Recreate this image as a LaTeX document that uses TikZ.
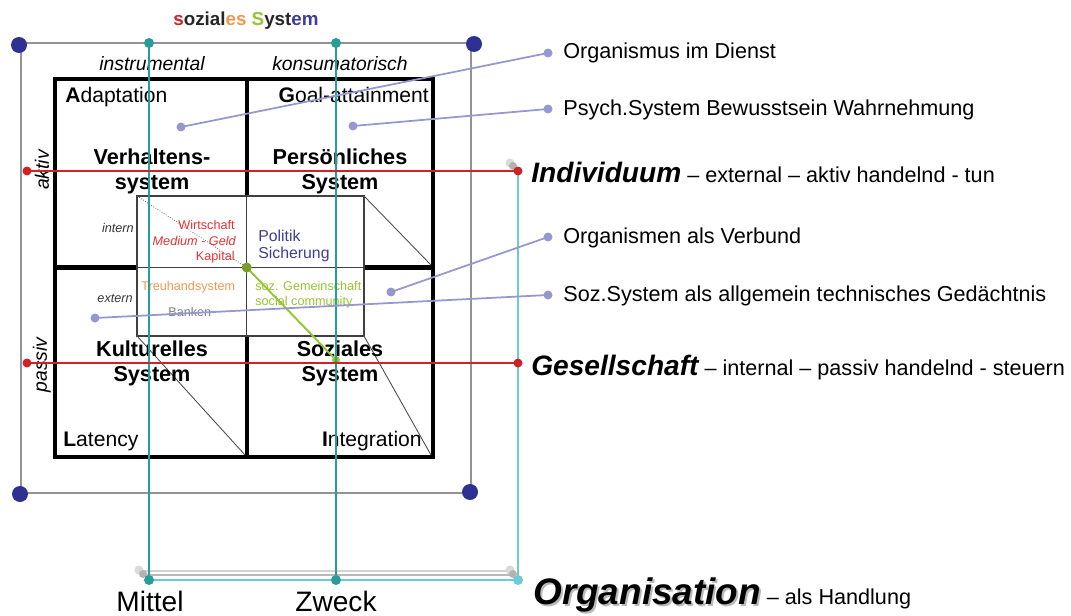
\documentclass[tikz,border=0pt]{standalone}
\usepackage{fontspec}
\setmainfont{Liberation Sans}
\usepackage{tikz}
\usetikzlibrary{positioning}

\definecolor{rot}{RGB}{204,34,40}
\definecolor{textrot}{RGB}{232,50,50}
\definecolor{navy}{RGB}{46,49,146}
\definecolor{petrol}{RGB}{38,157,155}
\definecolor{hellblau}{RGB}{110,200,214}
\definecolor{lila}{RGB}{150,150,208}
\definecolor{orang}{RGB}{242,152,80}
\definecolor{gruen}{RGB}{150,196,50}
\definecolor{blau}{RGB}{62,62,150}
\newcommand{\fsz}[2]{\fontsize{#1}{#2}\selectfont}

\begin{document}
\begin{tikzpicture}[x=0.02cm, y=-0.02cm,
  every node/.style={inner sep=0pt},
  zelle/.style={anchor=base, align=center, font=\fsz{12.3}{14}\bfseries},
  quadrant/.style={font=\fsz{12}{14}},
  klein/.style={font=\fsz{7.2}{9}},
  kleinkursiv/.style={font=\fsz{7.2}{9}\itshape},
  hinweis/.style={anchor=base west, font=\fsz{12.3}{14}},
  dicke linie/.style={line width=2.3pt},
  duenne linie/.style={draw=black!75, line width=0.6pt},
  lila linie/.style={draw=lila, line width=1pt},
  rot linie/.style={draw=rot, line width=1.1pt},
  petrol linie/.style={draw=petrol, line width=1.1pt},
  schatten/.style={draw=gray!35, line width=1.2pt}
]
\useasboundingbox (0,0) rectangle (1071,615);

\coordinate (ol) at (21,43);
\coordinate (or) at (471,43);
\coordinate (ur) at (471,493);
\coordinate (ul) at (21,493);
\draw[gray!85, line width=0.9pt] (ol) -- (or) -- (ur) -- (ul) -- cycle;

\draw[dicke linie] (55,79) rectangle (433,457);
\draw[dicke linie] (246.7,79) -- (246.7,457) (55,267.5) -- (433,267.5);
\draw[duenne linie, fill=white] (137,196) rectangle (364,336);
\draw[duenne linie] (246.7,196) -- (246.7,336) (137,267.5) -- (364,267.5);
\draw[black!70, line width=0.5pt] (364,196) -- (431,265) (137,336) -- (245,455) (364,336) -- (431,455);
\draw[black!70, line width=0.4pt, densely dotted] (137,196) -- (246.7,267.5);

\node[anchor=base, font=\fsz{10.7}{12}\bfseries, text=black!85] (titel) at (246,26)
  {{\color{rot}s}ozial{\color{orang}es} {\color{gruen}S}yst{\color{blau}em}};
\node[anchor=base, font=\fsz{11}{13}\itshape] (instr) at (152,71) {instrumental};
\node[anchor=base, font=\fsz{11}{13}\itshape] (kons) at (340,71) {konsumatorisch};
\node[rotate=90, font=\fsz{11}{13}\itshape] (aktiv) at (42,170) {aktiv};
\node[rotate=90, font=\fsz{11}{13}\itshape] (passiv) at (42,365) {passiv};

\node[quadrant, anchor=base west] (adapt) at (65,103) {\textbf{A}daptation};
\node[quadrant, anchor=base east] (goal) at (429,103) {\textbf{G}oal-attainment};
\node[quadrant, anchor=base west] (lat) at (63,446) {\textbf{L}atency};
\node[quadrant, anchor=base east] (integ) at (422,446) {\textbf{I}ntegration};

\node[zelle] (verh) at (152,189) {Verhaltens-\\system};
\node[zelle] (pers) at (340,189) {Persönliches\\System};
\node[zelle] (kult) at (152,381) {Kulturelles\\System};
\node[zelle] (sozial) at (340,381) {Soziales\\System};

\node[kleinkursiv, anchor=base east, text=black!80] (intern) at (134,232) {intern};
\node[kleinkursiv, anchor=base east, text=black!80] (extern) at (133,302) {extern};
\node[klein, anchor=base east, text=textrot] (wirt) at (235,229) {Wirtschaft};
\node[kleinkursiv, anchor=base east, text=textrot] (medium) at (236,245) {Medium - Geld};
\node[klein, anchor=base east, text=textrot] (kapital) at (235,260) {Kapital};
\node[anchor=base west, font=\fsz{9}{11}, text=blau] (politik) at (258,241) {Politik};
\node[anchor=base west, font=\fsz{9}{11}, text=blau] (sicher) at (258,258) {Sicherung};
\node[klein, anchor=base west, text=orang] (treu) at (141,290) {Treuhandsystem};
\node[klein, anchor=base west, text=gruen] (gemein) at (255,290) {soz. Gemeinschaft};
\node[klein, anchor=base west, text=gruen] (community) at (255,305) {social community};
\node[klein, anchor=base west, text=gray] (banken) at (168,316) {Banken};

\coordinate (mitte) at (246.7,267.5);
\coordinate (gende) at (336,360);
\draw[gruen, line width=1.1pt] (mitte) -- (gende);
\fill[gruen!80!black] (mitte) circle[radius=0.1cm];
\fill[gruen] (gende) circle[radius=0.08cm];

\node[hinweis] (dienst) at (563,59) {Organismus im Dienst};
\node[hinweis] (psych) at (563,115) {Psych.System Bewusstsein Wahrnehmung};
\node[hinweis] (verbund) at (563,243) {Organismen als Verbund};
\node[hinweis] (gedaechtnis) at (563,301) {Soz.System als allgemein technisches Gedächtnis};
\node[hinweis] (indiv) at (531,182) {{\fsz{16}{18}\bfseries\itshape Individuum} – external – aktiv handelnd - tun};
\node[hinweis] (gesell) at (531,375) {{\fsz{16}{18}\bfseries\itshape Gesellschaft} – internal – passiv handelnd - steuern};
\node[hinweis, text=gray!55] (orgaschatten) at (535,606) {\fsz{21}{24}\bfseries\itshape Organisation};
\node[hinweis] (orga) at (533,604) {{\fsz{21}{24}\bfseries\itshape Organisation} – als Handlung};
\node[anchor=base, font=\fsz{16}{18}] (mittel) at (150,611) {Mittel};
\node[anchor=base, font=\fsz{16}{18}] (zweck) at (336,611) {Zweck};

\coordinate (mo) at (149,43);
\coordinate (mu) at (149,580);
\coordinate (zo) at (336,43);
\coordinate (zu) at (336,580);
\coordinate (ecke) at (518,580);
\coordinate (il) at (27,171);
\coordinate (ir) at (518,171);
\coordinate (gl) at (27,363);
\coordinate (gr) at (518,363);

\draw[schatten] (140,571) -- (510,571);
\draw[draw=gray!55, line width=1.2pt] (143,575) -- (513,575);
\fill[gray!30] (139,570) circle[radius=0.09cm] (510,570) circle[radius=0.09cm] (510,163) circle[radius=0.09cm];
\fill[gray!60] (143,574) circle[radius=0.08cm] (513,574) circle[radius=0.08cm] (513,166) circle[radius=0.08cm];

\draw[hellblau, line width=1.1pt] (mu) -- (ecke) -- (ir);
\draw[petrol linie] (mo) -- (mu);
\draw[petrol linie] (zo) -- (zu);
\draw[rot linie] (il) -- (ir);
\draw[rot linie] (gl) -- (gr);

\coordinate (l1a) at (181,127);
\coordinate (l1b) at (548,53);
\coordinate (l2a) at (353,126);
\coordinate (l2b) at (548,109);
\coordinate (l3a) at (391,292);
\coordinate (l3b) at (548,237);
\coordinate (l4a) at (95,318);
\coordinate (l4b) at (548,295);
\draw[lila linie] (l1a) -- (l1b);
\draw[lila linie] (l2a) -- (l2b);
\draw[lila linie] (l3a) -- (l3b);
\draw[lila linie] (l4a) -- (l4b);

\fill[lila] (l1a) circle[radius=0.09cm] (l1b) circle[radius=0.09cm] (l2a) circle[radius=0.09cm] (l2b) circle[radius=0.09cm]
  (l3a) circle[radius=0.09cm] (l3b) circle[radius=0.09cm] (l4a) circle[radius=0.09cm] (l4b) circle[radius=0.09cm];
\fill[rot] (il) circle[radius=0.09cm] (ir) circle[radius=0.09cm] (gl) circle[radius=0.09cm] (gr) circle[radius=0.09cm];
\fill[hellblau] (ecke) circle[radius=0.1cm];
\fill[petrol] (mo) circle[radius=0.1cm] (mu) circle[radius=0.1cm] (zo) circle[radius=0.1cm] (zu) circle[radius=0.1cm];
\fill[navy] (19,45) circle[radius=0.16cm] (474,44) circle[radius=0.16cm] (20,494) circle[radius=0.16cm] (470,492) circle[radius=0.16cm];
\end{tikzpicture}
\end{document}
